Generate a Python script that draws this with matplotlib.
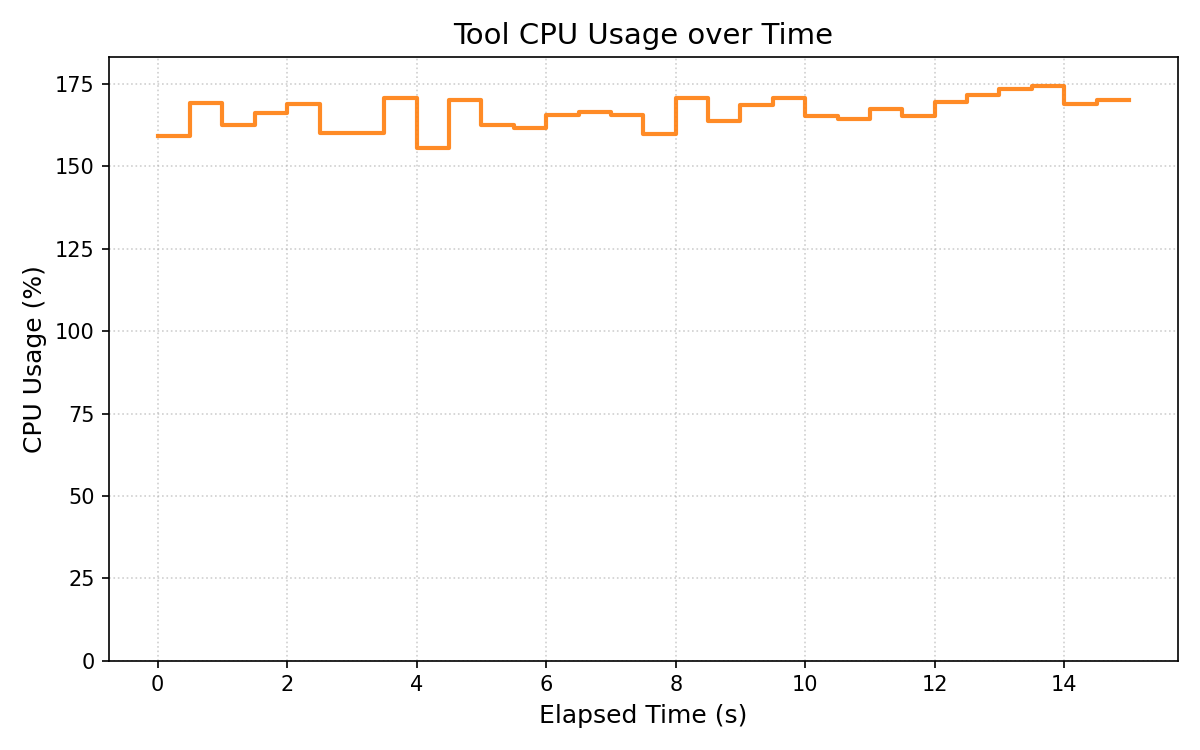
import matplotlib.pyplot as plt

elapsed_s = [0.0, 0.5, 1.0, 1.5, 2.0, 2.5, 3.0, 3.5, 4.0, 4.5,
             5.0, 5.5, 6.0, 6.5, 7.0, 7.5, 8.0, 8.5, 9.0, 9.5,
             10.0, 10.5, 11.0, 11.5, 12.0, 12.5, 13.0, 13.5, 14.0, 14.5, 15.0]
cpu_pct = [159.3, 169.2, 162.6, 166.2, 168.9, 160.2, 160.2, 170.7, 155.7, 170.1,
           162.6, 161.7, 165.6, 166.5, 165.7, 159.7, 170.7, 163.7, 168.6, 170.9,
           165.4, 164.5, 167.5, 165.3, 169.7, 171.7, 173.6, 174.5, 168.9, 170.2, 170.2]

fig, ax = plt.subplots(figsize=(8, 5), dpi=150)
ax.step(elapsed_s, cpu_pct, where='post', color='tab:orange', alpha=0.9, linewidth=2)
ax.set_ylim(0, max(cpu_pct) * 1.05)
ax.set_title('Tool CPU Usage over Time', fontsize=14)
ax.set_xlabel('Elapsed Time (s)', fontsize=12)
ax.set_ylabel('CPU Usage (%)', fontsize=12)
ax.grid(True, linestyle=':', alpha=0.6)
fig.tight_layout()
fig.savefig('out.png')
